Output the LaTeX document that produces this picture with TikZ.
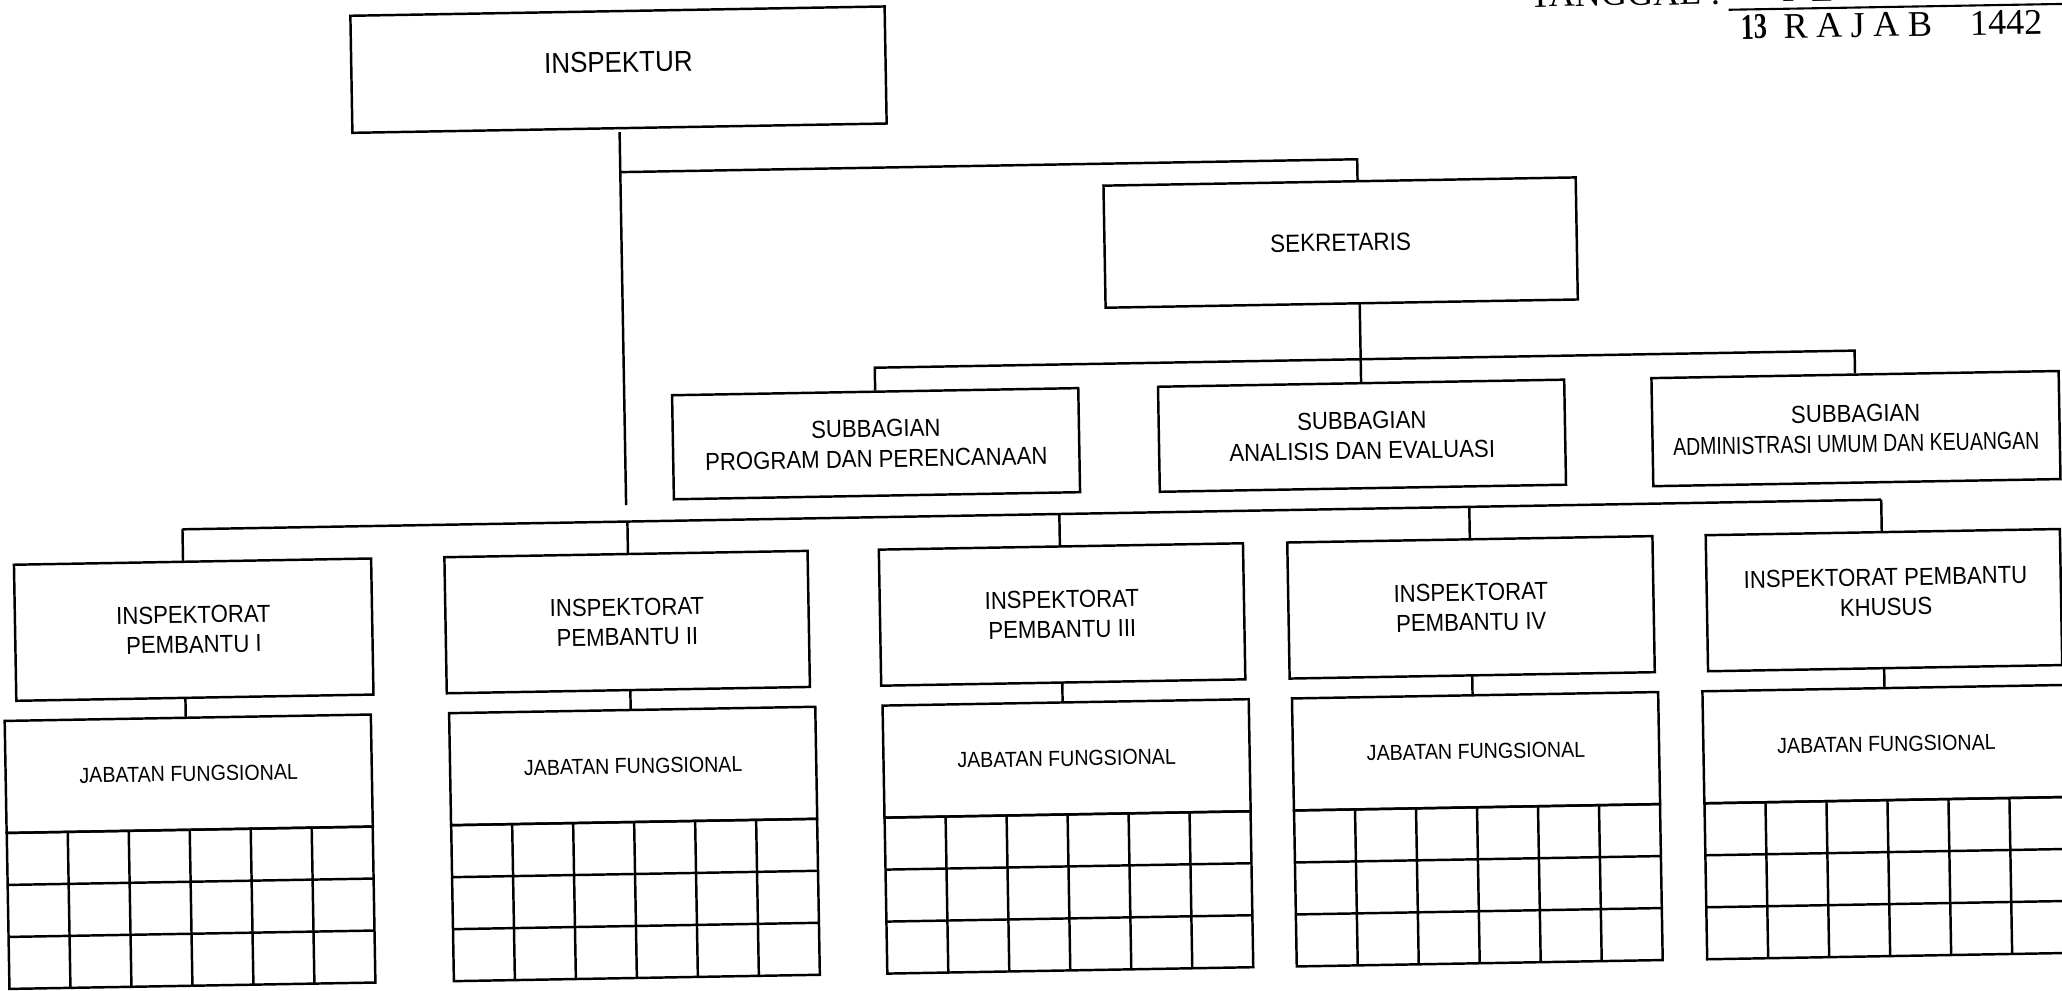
\documentclass[tikz,border=0pt]{standalone}
\usepackage{fontspec}
\usepackage{graphicx}
\setmainfont{Liberation Sans}[FakeStretch=0.9]
\newfontfamily\stampfont{Liberation Serif}
\begin{document}
\begin{tikzpicture}[x=0.01cm,y=-0.01cm,
  ln/.style={line width=0.7pt},
  box/.style={draw,line width=0.7pt,inner sep=0pt,align=center},
  fInsp/.style={font=\fontsize{8.2}{9.8}\selectfont},
  fSek/.style={font=\fontsize{7.1}{8.5}\selectfont},
  fSub/.style={font=\fontsize{7}{8.6}\selectfont},
  fIP/.style={font=\fontsize{7}{8.5}\selectfont},
  fJF/.style={font=\fontsize{6.2}{7.5}\selectfont},
  stamp/.style={font=\stampfont\fontsize{10.3}{12}\selectfont,inner sep=0pt},
]
\useasboundingbox (0,0) rectangle (2062,990);
\fill[white] (0,0) rectangle (2062,990);
\clip (0,0) rectangle (2062,990);
\begin{scope}[rotate around={1:(1031,495)},transform shape]
% stamp
\node[stamp,anchor=base east] (tgl) at (1730,16) {TANGGAL :};
\node[stamp,anchor=base west] (feb) at (1790,15) {F E B R U A R I};
\coordinate (ul0) at (1737,22);
\coordinate (ul1) at (2120,22);
\draw[line width=0.6pt] (ul0) -- (ul1);
\node[stamp,anchor=base west] (rajab) at (1749,51.5) {\scalebox{0.72}[1]{\textbf{13}}\hspace{4.5pt}R\hspace{2.4pt}A\hspace{2.4pt}J\hspace{2.4pt}A\hspace{2.4pt}B\hspace{10.8pt}1442};

% top
\node[box,minimum width=5.34cm,minimum height=1.17cm] (insp) at (626,62.5) {};
\node[fInsp,inner sep=0pt] (inspT) at (626,55) {INSPEKTUR};
\node[box,fSek,minimum width=4.72cm,minimum height=1.22cm] (sek) at (1345,248) {SEKRETARIS};

\coordinate (t0) at (626,125);
\coordinate (t1) at (626,498);
\coordinate (j0) at (626,165);
\coordinate (j1) at (1363,165);
\coordinate (sekN) at (1363,187);
\coordinate (sekS) at (1363,309);
\draw[ln] (t0) -- (t1);
\draw[ln] (j0) -- (j1) -- (sekN);

% subbagian
\node[box,fSub,minimum width=4.06cm,minimum height=1.04cm] (sub1) at (877,441) {SUBBAGIAN\\PROGRAM DAN PERENCANAAN};
\node[box,fSub,minimum width=4.06cm,minimum height=1.05cm] (sub2) at (1363,441.5) {SUBBAGIAN\\ANALISIS DAN EVALUASI};
\node[box,fSub,minimum width=4.07cm,minimum height=1.08cm] (sub3) at (1857,443) {SUBBAGIAN\\\scalebox{0.88}[1]{ADMINISTRASI UMUM DAN KEUANGAN}};
\coordinate (sb1) at (877,365);
\coordinate (sb2) at (1363,365);
\coordinate (sb3) at (1857,365);
\draw[ln] (sekS) -- (sb2) -- (sub2.north);
\draw[ln] (sub1.north) -- (sb1) -- (sb3) -- (sub3.north);

% inspektorat pembantu
\node[box,fIP,minimum width=3.57cm,minimum height=1.36cm] (ip1) at (191.5,615) {INSPEKTORAT\\PEMBANTU I};
\node[box,fIP,minimum width=3.63cm,minimum height=1.36cm] (ip2) at (625,615) {INSPEKTORAT\\PEMBANTU II};
\node[box,fIP,minimum width=3.64cm,minimum height=1.36cm] (ip3) at (1060,615) {INSPEKTORAT\\PEMBANTU III};
\node[box,fIP,minimum width=3.65cm,minimum height=1.36cm] (ip4) at (1469,615) {INSPEKTORAT\\PEMBANTU IV};
\node[box,minimum width=3.54cm,minimum height=1.36cm] (ip5) at (1882,615) {};
\node[fIP,align=center,inner sep=0pt] (ip5T) at (1884,607) {INSPEKTORAT PEMBANTU\\KHUSUS};

% bus and jabatan fungsional
\foreach \cx/\col/\n in {184/182/1,628.5/627/2,1062/1059/3,1471.5/1469/4,1882/1881/5}{
  \coordinate (b\n) at (\col,514.5);
  \coordinate (ipN\n) at (\col,547);
  \coordinate (ipS\n) at (\col,683);
  \coordinate (jfN\n) at (\col,703);
  \draw[ln] (b\n) -- (ipN\n);
  \draw[ln] (ipS\n) -- (jfN\n);
  \node[box,fJF,minimum width=3.66cm,minimum height=1.12cm] (jf\n) at (\cx,759) {JABATAN FUNGSIONAL};
  \draw[ln] (\cx-183,815) rectangle (\cx+183,971);
  \foreach \k in {1,...,5} \draw[ln] (\cx-183+61*\k,815) -- (\cx-183+61*\k,971);
  \draw[ln] (\cx-183,867) -- (\cx+183,867);
  \draw[ln] (\cx-183,919) -- (\cx+183,919);
}
\draw[ln] (b1) -- (b5);
\end{scope}
\end{tikzpicture}
\end{document}
